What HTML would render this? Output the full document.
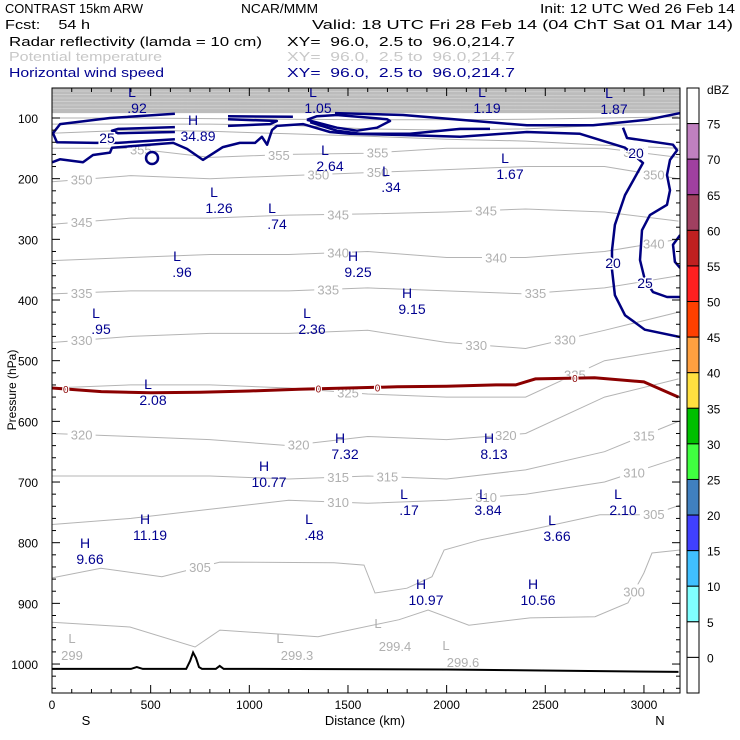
<!DOCTYPE html>
<html><head><meta charset="utf-8"><style>
body{margin:0;background:#fff;}
svg{display:block;font-family:"Liberation Sans",sans-serif;}
</style></head><body>
<svg id="chart" width="740" height="740" xmlns="http://www.w3.org/2000/svg">
<g font-size="13">
<text x="5" y="13" textLength="138" lengthAdjust="spacingAndGlyphs">CONTRAST 15km ARW</text>
<text x="241" y="13" textLength="77" lengthAdjust="spacingAndGlyphs">NCAR/MMM</text>
<text x="540" y="13" textLength="195" lengthAdjust="spacingAndGlyphs">Init: 12 UTC Wed 26 Feb 14</text>
<text x="5" y="29" textLength="85" lengthAdjust="spacingAndGlyphs" xml:space="preserve">Fcst:    54 h</text>
<text x="312" y="29" textLength="421" lengthAdjust="spacingAndGlyphs">Valid: 18 UTC Fri 28 Feb 14 (04 ChT Sat 01 Mar 14)</text>
<text x="9" y="46" textLength="253" lengthAdjust="spacingAndGlyphs">Radar reflectivity (lamda = 10 cm)</text>
<text x="287" y="46" textLength="228" lengthAdjust="spacingAndGlyphs" xml:space="preserve">XY=  96.0,  2.5 to  96.0,214.7</text>
<text x="9" y="61" textLength="153" lengthAdjust="spacingAndGlyphs" fill="#c8c8c8">Potential temperature</text>
<text x="287" y="61" textLength="228" lengthAdjust="spacingAndGlyphs" fill="#c8c8c8" xml:space="preserve">XY=  96.0,  2.5 to  96.0,214.7</text>
<text x="9" y="77" textLength="155" lengthAdjust="spacingAndGlyphs" fill="#000090">Horizontal wind speed</text>
<text x="287" y="77" textLength="228" lengthAdjust="spacingAndGlyphs" fill="#000090" xml:space="preserve">XY=  96.0,  2.5 to  96.0,214.7</text>
</g>
<g id="plot"></g>
<g id="axes"></g>
<g id="cbar"></g>
</svg>
<script>
const distances=[0,400,800,1200,1600,2000,2400,2800,3175];
const thetaLevels=[355,350,345,340,335,330,325,320,315,310];
const theta355=[150,150,165,160,158,150,150,150,165];
const theta350=[205,195,200,195,190,185,180,180,200];
const theta345=[275,265,265,260,258,255,250,255,270];
const theta340=[335,330,325,325,320,330,330,320,300];
const theta335=[390,385,385,385,380,385,390,380,360];
const theta330=[470,460,455,455,450,470,480,450,420];
const theta325=[545,540,540,545,555,560,560,500,480];
const theta320=[620,625,630,640,625,630,620,560,530];
const theta315=[690,690,690,695,690,695,680,650,600];
const theta310=[770,760,745,730,735,730,720,700,660];
const theta305Km=[0,248,557,851,1429,1581,1637,1799,1926,1987,2174,2423,2777,3041,3183];
const theta305P=[858,842,856,832,833,837,883,875,856,812,795,779,754,754,738];
const theta300Km=[0,395,725,851,1348,1759,1906,2113,2423,2752,2919,3000,3041,3183];
const theta300P=[931,939,972,944,955,927,911,936,924,922,899,850,817,812];
const thetaUpper=[[125,120,122,126,130,135,138,145,150],[110,110,110,112,118,120,118,112,110],[100,100,101,102,103,103,102,100,98]];
const isotherm0Km=[0,250,500,750,1000,1250,1500,1750,2000,2250,2350,2450,2750,3000,3175];
const isotherm0P=[545,551,553,552,550,547,545,543,542,540,540,530,528,535,560];
const terrainKm=[0,400,430,460,600,680,700,715,730,745,760,830,850,870,1000,2000,2300,2600,3175];
const terrainP=[1008,1008,1005,1008,1008,1008,995,981,990,1005,1008,1008,1003,1008,1008,1009,1010,1011,1013];
const wind20a=[[0,173],[40,168],[157,173],[208,161],[294,157],[304,149],[614,141],[684,151],[765,169],[866,148],[952,141],[1029,141],[1064,131],[1090,144],[1115,120],[1140,113],[1272,110],[1409,123],[1510,126],[1779,128],[2068,131],[2407,123],[2676,126],[2904,149],[2995,174],[2904,227],[2853,276],[2838,318],[2838,350],[2853,392],[2904,425],[3005,449],[3183,461]];
const wind25b=[[2894,116],[2914,133],[3147,144],[3168,153],[3132,169],[3117,194],[3132,219],[3117,243],[3030,260],[2990,285],[2980,334],[3005,367],[3046,387],[3117,395],[3183,395]];
const wind20c=[[3183,293],[3147,309],[3157,337],[3183,347]];
const wind25d=[[623,93],[294,100],[41,110],[5,125],[25,140],[218,141],[334,141],[623,135]];
const wind30e=[[623,115],[334,118],[304,121],[334,125],[623,123]];
const wind30f=[[892,97],[1221,98]];
const wind30g=[[892,102],[1140,105],[1105,110],[892,113]];
const wind30h=[[1292,103],[1444,116],[1546,121],[1647,116],[1713,105],[1698,102],[1444,95],[1343,97],[1292,103]];
const wind25i=[[1308,107],[1444,121],[1561,126],[1814,126],[2068,118],[2220,118]];
const wind25F=[[1434,92],[1779,95],[2068,103],[2407,112],[2742,112],[3015,103],[3183,92]];
const loopCenter=[507,166];
const pTicks=[100,200,300,400,500,600,700,800,900,1000];
const xTicks=[0,500,1000,1500,2000,2500,3000];
const cbarLabels=[75,70,65,60,55,50,45,40,35,30,25,20,15,10,5,0];
const cbarColors=["#ffffff","#c080c0","#a040a0","#a04060","#c02020","#ff2020","#ff4000","#ffa040","#ffe040","#00c000","#40ff40","#4080c0","#4040ff","#40c0ff","#80ffff","#ffffff","#ffffff"];

const X0=52,X1=680,Y0=88,Y1=693;
const xS=km=>52+km/5.068;
const yS=p=>118+(p-100)*0.6067;
const NS="http://www.w3.org/2000/svg";
function mk(tag,attrs,parent){const e=document.createElementNS(NS,tag);for(const k in attrs)e.setAttribute(k,attrs[k]);parent.appendChild(e);return e;}
const plot=document.getElementById('plot');
const axes=document.getElementById('axes');
const cbar=document.getElementById('cbar');
function ptsKm(xs,ps){return xs.map((k,i)=>xS(k).toFixed(1)+","+yS(ps[i]).toFixed(1)).join(" ");}
function ptsPairs(a){return a.map(d=>xS(d[0]).toFixed(1)+","+yS(d[1]).toFixed(1)).join(" ");}
function interp(xs,ys,x){for(let i=0;i<xs.length-1;i++){if(x>=xs[i]&&x<=xs[i+1]){const t=(x-xs[i])/(xs[i+1]-xs[i]);return ys[i]+t*(ys[i+1]-ys[i]);}}return ys[ys.length-1];}

const defs=mk('defs',{},plot);
const cp=mk('clipPath',{id:'clip'},defs);
mk('rect',{x:X0,y:Y0,width:X1-X0,height:Y1-Y0},cp);
const g=mk('g',{'clip-path':'url(#clip)'},plot);



const band=mk('rect',{x:X0,y:Y0,width:X1-X0,height:yS(92)-Y0,fill:'#bcbcbc'},g);


for(let i=0;i<6;i++){
  const l=mk('line',{x1:X0,x2:X1,y1:Y0+3+i*3.5,y2:Y0+4+i*3.5,stroke:'#d4d4d4','stroke-width':0.7},g);
  
  
}
thetaUpper.forEach(arr=>{
  const l=mk('polyline',{points:ptsKm(distances,arr),fill:'none',stroke:'#b0b0b0','stroke-width':1},g);
  
  
});
function drawTheta(xs,ps,level,labs){
  const l=mk('polyline',{points:ptsKm(xs,ps),fill:'none',stroke:'#b4b4b4','stroke-width':1},g);
  
  
  labs.forEach(k=>{
    const x=xS(k),y=yS(interp(xs,ps,k));
    const r=mk('rect',{x:x-14,y:y-7,width:28,height:13,fill:'#fff'},g);
    
    
    const t=mk('text',{x:x,y:y+5,'text-anchor':'middle','font-size':13,fill:'#b0b0b0'},g);
    t.textContent=level;
    
    
  });
}
const thetaArrs=[theta355,theta350,theta345,theta340,theta335,theta330,theta325,theta320,theta315,theta310];
const labelKm=[[450,1150,1650,2950],[150,1350,1650,3050],[150,1450,2200],[1450,2250,3050],[150,1400,2450],[150,2150,2600],[1500,2650],[150,1250,2300],[1450,1700,3000],[1450,2200,2950]];
thetaArrs.forEach((arr,i)=>drawTheta(distances,arr,thetaLevels[i],labelKm[i]));
drawTheta(theta305Km,theta305P,305,[750,3050]);
drawTheta(theta300Km,theta300P,300,[2950]);

[["299",72,660],["299.3",297,660],["299.4",395,651],["299.6",463,667]].forEach(d=>{
  const t=mk('text',{x:d[1],y:d[2],'text-anchor':'middle','font-size':13,fill:'#b0b0b0'},g);
  t.textContent=d[0];
  
  
});
[[72,643],[280,643],[378,628],[446,650]].forEach(d=>{
  const t=mk('text',{x:d[0],y:d[1],'text-anchor':'middle','font-size':13,fill:'#b0b0b0'},g);
  t.textContent='L';
  
  
});

const iso=mk('polyline',{points:ptsKm(isotherm0Km,isotherm0P),fill:'none',stroke:'#8b0000','stroke-width':3},g);


[70,1350,1650,2650].forEach(k=>{
  const x=xS(k),y=yS(interp(isotherm0Km,isotherm0P,k));
  const t=mk('text',{x:x,y:y+4,'text-anchor':'middle','font-size':10,fill:'#8b0000',stroke:'#fff','stroke-width':2.5,'paint-order':'stroke'},g);
  t.textContent='0';
  
  
});

[wind20a,wind25b,wind20c,wind25d,wind30e,wind30f,wind30g,wind30h,wind25i,wind25F].forEach(c=>{
  const l=mk('polyline',{points:ptsPairs(c),fill:'none',stroke:'#000080','stroke-width':2.5,'stroke-linejoin':'round'},g);
  
  
});
const lp=mk('circle',{cx:xS(loopCenter[0]),cy:yS(loopCenter[1]),r:6,fill:'none',stroke:'#000080','stroke-width':2.5},g);


[["25",107,143],["20",636,158],["20",613,268],["25",645,288]].forEach(d=>{
  const t=mk('text',{x:d[1],y:d[2],'text-anchor':'middle','font-size':14,fill:'#000080',stroke:'#fff','stroke-width':3,'paint-order':'stroke'},g);
  t.textContent=d[0];
  
  
});
const hl=[["L",".92",132,92],["L","1.05",313,92],["L","1.19",482,92],["L","1.87",609,93],["H","34.89",193,120],["L","2.64",325,150],["L",".34",386,171],["L","1.67",505,158],["L","1.26",214,192],["L",".74",272,208],["L",".96",177,256],["H","9.25",353,256],["H","9.15",407,293],["L",".95",96,313],["L","2.36",307,313],["L","2.08",148,384],["H","7.32",340,438],["H","8.13",489,438],["H","10.77",264,466],["L",".17",404,494],["L","3.84",483,494],["L","2.10",618,494],["H","11.19",145,519],["L",".48",309,519],["L","3.66",552,520],["H","9.66",85,543],["H","10.97",421,584],["H","10.56",533,584]];
hl.forEach(d=>{
  const t1=mk('text',{x:d[2],y:d[3]+5,'text-anchor':'middle','font-size':14,fill:'#000090'},g);
  t1.textContent=d[0];
  
  
  const t2=mk('text',{x:d[2]+5,y:d[3]+21,'text-anchor':'middle','font-size':14,fill:'#000090'},g);
  t2.textContent=d[1];
  
  
});

const ter=mk('polyline',{points:ptsKm(terrainKm,terrainP),fill:'none',stroke:'#000','stroke-width':2},g);



const fr=mk('rect',{x:X0,y:Y0,width:X1-X0,height:Y1-Y0,fill:'none',stroke:'#000','stroke-width':1},axes);


for(let p=100;p<=1040;p+=20){
  const big=p%100===0;
  const t=mk('line',{x1:X0,x2:X0+(big?8:4),y1:yS(p),y2:yS(p),stroke:'#000'},axes);
  
  
  const t2=mk('line',{x1:X1,x2:X1-(big?8:4),y1:yS(p),y2:yS(p),stroke:'#000'},axes);
  
  
}
pTicks.forEach(p=>{
  const t=mk('text',{x:38,y:yS(p)+5,'text-anchor':'end','font-size':12},axes);
  t.textContent=p;
  
  
});
for(let k=0;k<=3175;k+=100){
  const big=k%500===0;
  const t=mk('line',{x1:xS(k),x2:xS(k),y1:Y1,y2:Y1-(big?8:4),stroke:'#000'},axes);
  
  
  const t2=mk('line',{x1:xS(k),x2:xS(k),y1:Y0,y2:Y0+(big?8:4),stroke:'#000'},axes);
  
  
}
xTicks.forEach(k=>{
  const t=mk('text',{x:xS(k),y:709,'text-anchor':'middle','font-size':12},axes);
  t.textContent=k;
  
  
});
[["S",86],["N",660]].forEach(d=>{
  const t=mk('text',{x:d[1],y:725,'text-anchor':'middle','font-size':13},axes);
  t.textContent=d[0];
  
  
});
const xt=mk('text',{x:365,y:725,'text-anchor':'middle','font-size':13},axes);
xt.textContent='Distance (km)';


const yt=mk('text',{x:16,y:390,'text-anchor':'middle','font-size':12,transform:'rotate(-90 16 390)'},axes);
yt.textContent='Pressure (hPa)';



const bh=(693-88)/cbarColors.length;
cbarColors.forEach((c,i)=>{
  const r=mk('rect',{x:687,y:88+i*bh,width:12,height:bh,fill:c,stroke:'#000','stroke-width':1},cbar);
  
  
});
cbarLabels.forEach((v,i)=>{
  const t=mk('text',{x:707,y:88+(i+1)*bh+5,'font-size':12},cbar);
  t.textContent=v;
  
  
});
const du=mk('text',{x:707,y:94,'font-size':12},cbar);
du.textContent='dBZ';


</script>
</body></html>
